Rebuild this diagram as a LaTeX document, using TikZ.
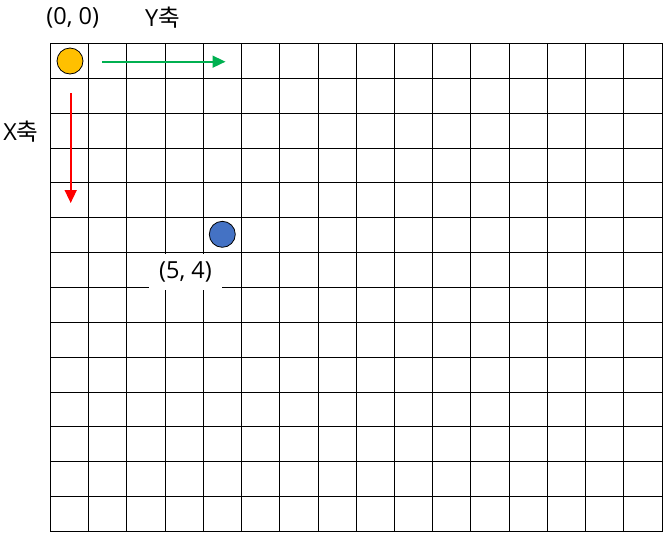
\documentclass[tikz,border=0pt]{standalone}
\usepackage{fontspec}
\setmainfont{Open Sans}
\newfontfamily\kofont{Noto Sans CJK KR}
\usepackage{tikz}
\usetikzlibrary{arrows.meta,positioning}
\definecolor{cellorange}{RGB}{255,192,0}
\definecolor{cellblue}{RGB}{68,114,196}
\definecolor{axisgreen}{RGB}{0,176,80}
\definecolor{axisred}{RGB}{255,0,0}

\begin{document}
\begin{tikzpicture}[
  x=1pt, y=-1pt,
  font=\fontsize{23.5}{26}\selectfont,
  gridline/.style={line width=1.1pt, line cap=rect, black},
  cell/.style={circle, draw=black, line width=0.8pt, minimum size=26pt, inner sep=0pt},
  axisarr/.style={-{Triangle[length=13pt, width=12pt]}, line width=1.6pt},
  lbl/.style={inner sep=0pt, anchor=center}
]
\useasboundingbox (0,0) rectangle (669,539);

% grid 16 x 14
\foreach \c in {0,...,16}
  \draw[gridline] ({round(50+38.22*\c)+0.5},43.5) -- ({round(50+38.22*\c)+0.5},531.5);
\foreach \r in {0,...,14}
  \draw[gridline] (50.5,{round(43+34.86*\r)+0.5}) -- (661.5,{round(43+34.86*\r)+0.5});

\node[cell, fill=cellorange] (origin) at (70,61) {};
\node[cell, fill=cellblue] (target) at (222.3,234.3) {};

\coordinate (ystart) at (102,61.7);
\coordinate (yend) at (225.5,61.7);
\coordinate (xstart) at (70.7,93);
\coordinate (xend) at (70.7,203);
\draw[axisarr, axisgreen] (ystart) -- (yend);
\draw[axisarr, axisred] (xstart) -- (xend);

\node[lbl] (originlbl) at (72.8,18) {(0, 0)};
\node[lbl] (yaxis) at (162.5,18) {Y{\kofont 축}};
\node[lbl] (xaxis) at (21,131.5) {X{\kofont 축}};
\node[lbl, fill=white, minimum width=73pt, minimum height=36pt] (targetlbl) at (185.5,272) {(5, 4)};
\end{tikzpicture}
\end{document}
